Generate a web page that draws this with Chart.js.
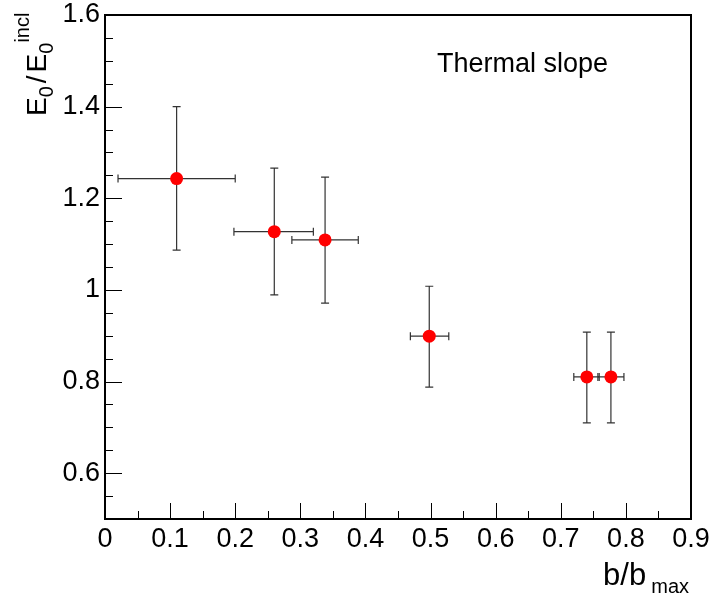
<!DOCTYPE html>
<html lang="en">
<head>
<meta charset="UTF-8">
<title>Thermal slope</title>
<script src="https://cdn.jsdelivr.net/npm/chart.js@4.4.2/dist/chart.umd.min.js"></script>
<style>
  html, body { margin: 0; padding: 0; background: #fff; }
  #wrap { width: 712px; height: 599px; position: relative; }
</style>
</head>
<body>
<div id="wrap"><canvas id="c"></canvas></div>
<script>
// --- data ---
const xVals  = [0.110, 0.260, 0.338, 0.498, 0.740, 0.777];
const yVals  = [1.243, 1.127, 1.109, 0.899, 0.810, 0.810];
const xLow   = [0.020, 0.198, 0.287, 0.469, 0.720, 0.757];
const xHigh  = [0.200, 0.320, 0.389, 0.528, 0.759, 0.797];
const yLow   = [1.087, 0.989, 0.971, 0.788, 0.710, 0.710];
const yHigh  = [1.400, 1.266, 1.246, 1.008, 0.908, 0.908];

const xTickVals   = [0, 0.1, 0.2, 0.3, 0.4, 0.5, 0.6, 0.7, 0.8, 0.9];
const xTickLabels = ['0', '0.1', '0.2', '0.3', '0.4', '0.5', '0.6', '0.7', '0.8', '0.9'];
const yTickVals   = [0.6, 0.8, 1.0, 1.2, 1.4, 1.6];
const yTickLabels = ['0.6', '0.8', '1', '1.2', '1.4', '1.6'];

const FONT = '"Liberation Sans", Arial, Helvetica, sans-serif';

// ROOT style frame, inward ticks, error bars and titles
const rootStyle = {
  id: 'rootStyle',
  beforeDatasetsDraw(chart) {
    const { ctx, scales: { x, y } } = chart;
    ctx.save();
    ctx.strokeStyle = '#333';
    ctx.lineWidth = 1.2;
    const cap = 4;
    for (let i = 0; i < xVals.length; i++) {
      const px = x.getPixelForValue(xVals[i]);
      const py = y.getPixelForValue(yVals[i]);
      const x0 = x.getPixelForValue(xLow[i]), x1 = x.getPixelForValue(xHigh[i]);
      const y0 = y.getPixelForValue(yLow[i]), y1 = y.getPixelForValue(yHigh[i]);
      ctx.beginPath();
      ctx.moveTo(x0, py); ctx.lineTo(x1, py);
      ctx.moveTo(x0, py - cap); ctx.lineTo(x0, py + cap);
      ctx.moveTo(x1, py - cap); ctx.lineTo(x1, py + cap);
      ctx.moveTo(px, y0); ctx.lineTo(px, y1);
      ctx.moveTo(px - cap, y0); ctx.lineTo(px + cap, y0);
      ctx.moveTo(px - cap, y1); ctx.lineTo(px + cap, y1);
      ctx.stroke();
    }
    ctx.restore();
  },
  afterDraw(chart) {
    const { ctx, chartArea: a, scales: { x, y } } = chart;
    ctx.save();
    ctx.strokeStyle = '#000';
    ctx.lineWidth = 1;
    ctx.beginPath();
    // x ticks: major every 0.1, minor every 0.05
    for (let k = 0; k <= 18; k++) {
      const px = Math.round(x.getPixelForValue(k * 0.05)) + 0.5;
      const len = k % 2 === 0 ? 16 : 8;
      ctx.moveTo(px, a.bottom); ctx.lineTo(px, a.bottom - len);
    }
    // y ticks: major every 0.2 from 0.6, minor every 0.05
    for (let k = 0; k <= 22; k++) {
      const v = 0.5 + k * 0.05;
      const py = Math.round(y.getPixelForValue(v)) + 0.5;
      const len = (k - 2) % 4 === 0 ? 17 : 8;
      ctx.moveTo(a.left, py); ctx.lineTo(a.left + len, py);
    }
    ctx.stroke();
    // frame
    ctx.lineWidth = 2;
    ctx.strokeRect(a.left, a.top, a.right - a.left, a.bottom - a.top);

    ctx.fillStyle = '#000';
    ctx.textAlign = 'left';
    ctx.textBaseline = 'alphabetic';
    // label inside frame
    ctx.font = '27px ' + FONT;
    ctx.fillText('Thermal slope', 437, 72);

    // x title b/b_max, right aligned with frame
    const big = '28px ' + FONT, small = '20px ' + FONT;
    ctx.font = small;
    const wMax = ctx.measureText('max').width;
    const xMax = a.right - 2 - wMax;
    ctx.fillText('max', xMax, 593);
    ctx.font = '31px ' + FONT;
    const wB = ctx.measureText('b/b').width;
    ctx.fillText('b/b', xMax - 5 - wB, 585);

    // y title E_0/E_0^incl, rotated, reading upwards from y=116
    ctx.translate(46, 116);
    ctx.rotate(-Math.PI / 2);
    let cx = 0;
    ctx.font = big;   ctx.fillText('E', cx, 0); cx += ctx.measureText('E').width;
    ctx.font = small; ctx.fillText('0', cx, 7); cx += ctx.measureText('0').width + 3;
    ctx.font = big;   ctx.fillText('/', cx, 0); cx += ctx.measureText('/').width + 3;
    ctx.fillText('E', cx, 0); cx += ctx.measureText('E').width;
    ctx.font = small; ctx.fillText('0', cx, 7); cx += ctx.measureText('0').width;
    ctx.fillText('incl', cx, -17);
    ctx.restore();
  }
};

new Chart(document.getElementById('c'), {
  type: 'scatter',
  data: {
    datasets: [{
      label: 'Thermal slope',
      data: xVals.map((v, i) => ({ x: v, y: yVals[i] })),
      pointRadius: 6.5,
      pointHoverRadius: 6.5,
      pointBackgroundColor: '#ff0000',
      pointBorderWidth: 0
    }]
  },
  options: {
    responsive: true,
    maintainAspectRatio: false,
    animation: false,
    events: [],
    layout: { padding: { top: 15, right: 21, left: 0, bottom: 0 } },
    plugins: { legend: { display: false }, tooltip: { enabled: false } },
    scales: {
      x: {
        type: 'linear', min: 0, max: 0.9,
        afterBuildTicks: s => { s.ticks = xTickVals.map(v => ({ value: v })); },
        afterFit: s => { s.height = 80; s.paddingLeft = 0; s.paddingRight = 0; },
        grid: { display: false, drawTicks: false },
        border: { display: false },
        ticks: {
          padding: 4,
          color: '#000',
          font: { family: FONT, size: 27 },
          maxRotation: 0,
          callback: (v, i) => xTickLabels[i]
        }
      },
      y: {
        type: 'linear', min: 0.5, max: 1.6,
        afterBuildTicks: s => { s.ticks = yTickVals.map(v => ({ value: v })); },
        afterFit: s => { s.width = 105; s.paddingTop = 0; s.paddingBottom = 0; },
        grid: { display: false, drawTicks: false },
        border: { display: false },
        ticks: {
          padding: 5,
          color: '#000',
          font: { family: FONT, size: 27 },
          callback: (v, i) => yTickLabels[i]
        }
      }
    }
  },
  plugins: [rootStyle]
});
</script>
</body>
</html>
